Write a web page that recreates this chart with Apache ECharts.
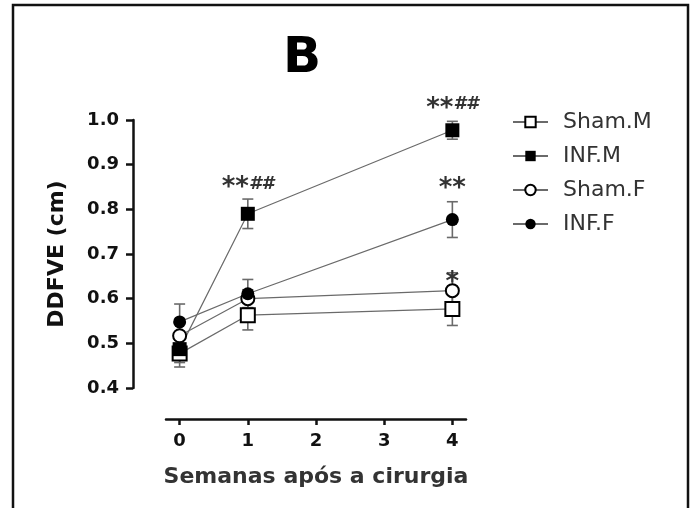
<!DOCTYPE html>
<html><head><meta charset="utf-8">
<script src="https://cdn.jsdelivr.net/npm/echarts@6/dist/echarts.min.js"></script>
<style>html,body{margin:0;padding:0;background:#fff}#c{width:695px;height:508px}</style>
</head><body><div id="c"></div><script>
const weeks = [0, 1, 4];
const xTickValues = [0, 1, 2, 3, 4];
const yTickValues = [0.4, 0.5, 0.6, 0.7, 0.8, 0.9, 1.0];
const seriesNames = ['Sham.M', 'INF.M', 'Sham.F', 'INF.F'];
const shamM = [0.477, 0.563, 0.577];
const shamMErr = [0.03, 0.033, 0.037];
const infM = [0.487, 0.79, 0.977];
const infMErr = [0.03, 0.033, 0.02];
const shamF = [0.517, 0.600, 0.618];
const shamFErr = [0.025, 0.02, 0.04];
const infF = [0.548, 0.611, 0.777];
const infFErr = [0.04, 0.032, 0.04];
const annotWeeks = [1, 4, 4, 4];
const annotValues = [0.857, 1.034, 0.855, 0.643];
const annotStars = ['**', '**', '**', '*'];
const annotHashes = ['##', '##', '', ''];

const means = [shamM, infM, shamF, infF];
const errs = [shamMErr, infMErr, shamFErr, infFErr];
const symbols = ['rect', 'rect', 'circle', 'circle'];
const filled = [false, true, false, true];
const sizes = [14, 14, 13, 13];

const FONT = 'DejaVu Sans';
const chart = echarts.init(document.getElementById('c'), null, {renderer: 'canvas'});

const errData = [];
means.forEach((m, s) => m.forEach((v, i) => errData.push([weeks[i], v - errs[s][i], v + errs[s][i]])));
const annData = annotWeeks.map((w, i) => [w, annotValues[i], i]);

const lineSeries = seriesNames.map((name, s) => ({
  name, type: 'line', z: 3,
  data: weeks.map((w, i) => [w, means[s][i]]),
  symbol: symbols[s], symbolSize: sizes[s],
  lineStyle: {color: '#6a6a6a', width: 1.2},
  itemStyle: {color: filled[s] ? '#000' : '#fff', borderColor: '#000', borderWidth: filled[s] ? 0 : 2},
  emphasis: {disabled: true}, animation: false
}));

const option = {
  animation: false,
  graphic: [
    {type: 'rect', shape: {x: 13, y: 5, width: 675, height: 530}, style: {fill: 'none', stroke: '#111', lineWidth: 2.5}, z: 100},
    {type: 'text', x: 302, y: 59, style: {text: 'B', font: 'bold 50px "DejaVu Sans"', fill: '#000', align: 'center', verticalAlign: 'middle'}}
  ],
  grid: {left: 166, top: 120, width: 300, height: 268},
  legend: {
    data: seriesNames, orient: 'vertical', left: 507, top: 106,
    itemWidth: 35, itemHeight: 13, itemGap: 12,
    textStyle: {fontFamily: FONT, fontSize: 22, color: '#333', padding: [0, 0, 0, 10]}
  },
  xAxis: {
    type: 'value', min: -0.2, max: 4.2, offset: 31,
    axisLine: {show: true, onZero: false, lineStyle: {color: '#111', width: 2.5}},
    axisTick: {show: true, length: 6, customValues: xTickValues, lineStyle: {color: '#111', width: 2.5}},
    axisLabel: {customValues: xTickValues, margin: 13, fontFamily: FONT, fontSize: 18, fontWeight: 'bold', color: '#111'},
    splitLine: {show: false},
    name: 'Semanas após a cirurgia', nameLocation: 'middle', nameGap: 47,
    nameTextStyle: {fontFamily: FONT, fontSize: 22, fontWeight: 'bold', color: '#333'}
  },
  yAxis: {
    type: 'value', min: 0.4, max: 1.0, offset: 33,
    axisLine: {show: true, onZero: false, lineStyle: {color: '#111', width: 2.5}},
    axisTick: {show: true, length: 7, customValues: yTickValues, lineStyle: {color: '#111', width: 2.5}},
    axisLabel: {customValues: yTickValues, margin: 14, formatter: v => v.toFixed(1), fontFamily: FONT, fontSize: 18, fontWeight: 'bold', color: '#111'},
    splitLine: {show: false},
    name: 'DDFVE (cm)', nameLocation: 'middle', nameGap: 65, nameRotate: 90,
    nameTextStyle: {fontFamily: FONT, fontSize: 22, fontWeight: 'bold', color: '#111'}
  },
  series: [
    {
      type: 'custom', z: 2, data: errData, silent: true,
      encode: {x: 0, y: [1, 2]},
      renderItem: (params, api) => {
        const x = api.value(0);
        const lo = api.coord([x, api.value(1)]);
        const hi = api.coord([x, api.value(2)]);
        const w = 5.5;
        const st = {stroke: '#6a6a6a', lineWidth: 1.6};
        return {type: 'group', children: [
          {type: 'line', shape: {x1: lo[0], y1: lo[1], x2: hi[0], y2: hi[1]}, style: st},
          {type: 'line', shape: {x1: hi[0] - w, y1: hi[1], x2: hi[0] + w, y2: hi[1]}, style: st},
          {type: 'line', shape: {x1: lo[0] - w, y1: lo[1], x2: lo[0] + w, y2: lo[1]}, style: st}
        ]};
      }
    },
    ...lineSeries,
    {
      type: 'custom', z: 4, data: annData, silent: true,
      encode: {x: 0, y: 1},
      renderItem: (params, api) => {
        const p = api.coord([api.value(0), api.value(1)]);
        const idx = api.value(2);
        const h = annotHashes[idx];
        const txt = '{s|' + annotStars[idx] + '}' + (h ? '{h|' + h + '}' : '');
        return {type: 'text', x: p[0], y: p[1], style: {
          text: txt, align: 'center', verticalAlign: 'middle',
          rich: {
            s: {fontFamily: FONT, fontSize: 26, fontWeight: 'bold', fill: '#333', color: '#333', padding: [8, 0, 0, 0]},
            h: {fontFamily: FONT, fontSize: 18, fontWeight: 'bold', fontStyle: 'italic', fill: '#333', color: '#333'}
          }
        }};
      }
    }
  ]
};
chart.setOption(option);
</script></body></html>
